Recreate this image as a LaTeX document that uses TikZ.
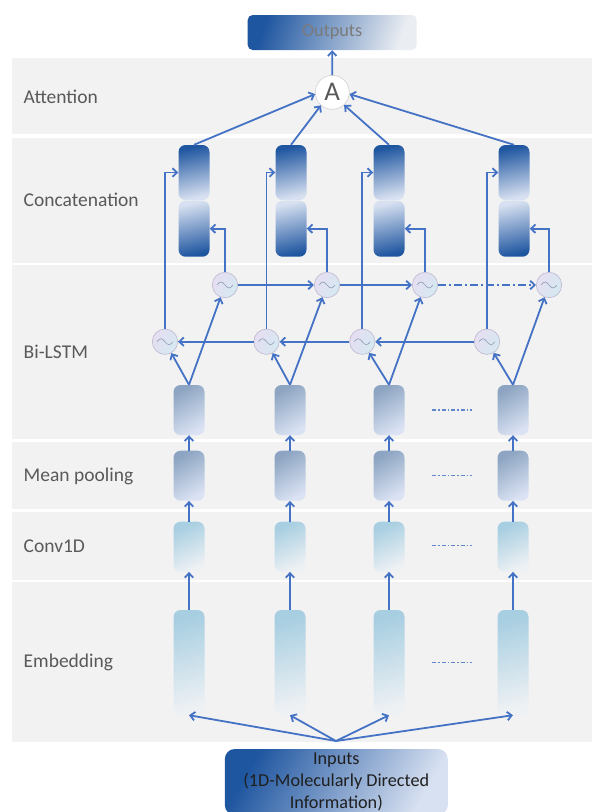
\documentclass[tikz,border=0pt]{standalone}
\usepackage{fontspec}
\setmainfont{Carlito}
\usetikzlibrary{positioning,arrows.meta,calc}
\definecolor{arrblue}{HTML}{4472C4}
\definecolor{bandgray}{HTML}{F2F2F2}
\definecolor{labgray}{HTML}{595959}
\definecolor{deepblue}{HTML}{1F56A0}
\definecolor{paleblue}{HTML}{D8E1F1}
\definecolor{outmid}{HTML}{B3C4DC}
\definecolor{outlight}{HTML}{EAEDF2}
\definecolor{slateblue}{HTML}{8DA5C2}
\definecolor{slatelight}{HTML}{DAE2F3}
\definecolor{skyblue}{HTML}{A7CEE1}
\definecolor{skylight}{HTML}{EEF1F4}
\definecolor{lilac}{HTML}{E6DEF1}
\definecolor{mint}{HTML}{D5E9F1}
\definecolor{rimgray}{HTML}{BDB7CF}
\definecolor{wavegray}{HTML}{8E9DB5}

\begin{document}
\begin{tikzpicture}[x=1pt,y=-1pt,
  lab/.style={anchor=west,inner sep=0pt,text=labgray,font=\fontsize{19.5}{23}\selectfont},
  cell/.style={rounded corners=7pt,minimum width=31pt,inner sep=0pt,draw=none},
  topcat/.style={cell,minimum height=55pt,top color=deepblue,bottom color=paleblue,shading angle=12},
  botcat/.style={cell,minimum height=56pt,top color=paleblue,bottom color=deepblue,shading angle=12},
  hidcell/.style={cell,minimum height=50pt,top color=slateblue,bottom color=slatelight,shading angle=30},
  convcell/.style={cell,minimum height=50pt,top color=skyblue,bottom color=skylight,shading angle=25},
  embcell/.style={cell,minimum height=105pt,top color=skyblue,bottom color=skylight,shading angle=15},
  unit/.style={circle,minimum size=25.4pt,inner sep=0pt,draw=rimgray,line width=0.6pt,
    left color=lilac,right color=mint,shading angle=60},
  wave/.style={draw=wavegray,line width=0.6pt},
  link/.style={draw=arrblue,line width=1.8pt,-{Straight Barb[length=4.5pt,width=8.5pt]}},
  dotline/.style={draw=arrblue!85,line width=1.1pt,dash pattern=on 4pt off 2pt on 1.5pt off 2pt}]
\clip (0,0) rectangle (592,812);
\fill[white] (0,0) rectangle (592,812);
% layer bands
\fill[bandgray] (11.5,57.5) rectangle (592,134);
\fill[bandgray] (11.5,137.5) rectangle (592,262.5);
\fill[bandgray] (11.5,265) rectangle (592,438.5);
\fill[bandgray] (11.5,442) rectangle (592,509);
\fill[bandgray] (11.5,511.5) rectangle (592,579.5);
\fill[bandgray] (11.5,582) rectangle (592,742);
\node[lab] (latt) at (23.5,96.5) {Attention};
\node[lab] (lcat) at (23.5,200) {Concatenation};
\node[lab] (llstm) at (23.5,352) {Bi-LSTM};
\node[lab] (lpool) at (23.5,476) {Mean pooling};
\node[lab] (lconv) at (23.5,546) {Conv1D};
\node[lab] (lemb) at (23.5,662.5) {Embedding};

\node[rounded corners=5pt,minimum width=169pt,minimum height=35pt,inner sep=0pt,
  left color=deepblue,middle color=outmid,right color=outlight,shading angle=70,
  text=black!52,font=\fontsize{18.2}{21}\selectfont] (out) at (332.2,32.5) {Outputs};
\node[circle,minimum size=34pt,inner sep=0pt,fill=white,draw=black!18,line width=0.6pt,
  text=labgray,font=\fontsize{27}{30}\selectfont] (att) at (332.3,92.3) {A};
\node[rounded corners=10pt,minimum width=223pt,minimum height=66pt,inner sep=0pt,align=center,
  top color=deepblue,bottom color=paleblue,shading angle=60,
  text=black!88,font=\fontsize{18.2}{21.7}\selectfont] (inp) at (336.3,782)
  {Inputs\\(1D-Molecularly Directed\\Information)};
\coordinate (fan) at (336,741);

% one column per time step
\foreach \i/\x/\cx/\bx/\fx in {1/189/194/165/225,2/290/291/266.5/327,3/389/389/362.3/425,4/513/514/487/549}{
  \node[embcell] (emb\i) at (\x,662.5) {};
  \node[convcell] (conv\i) at (\x,546.7) {};
  \node[hidcell] (pool\i) at (\x,475.7) {};
  \node[hidcell] (lstm\i) at (\x,410) {};
  \node[unit] (bw\i) at (\bx,341.7) {};
  \node[unit] (fw\i) at (\fx,285) {};
  \node[botcat] (cb\i) at (\cx,228.7) {};
  \node[topcat] (ct\i) at (\cx,172.5) {};
  \draw[wave] ($(bw\i)+(-8,0)$) sin ++(4,-3) cos ++(4,3) sin ++(4,3) cos ++(4,-3);
  \draw[wave] ($(fw\i)+(-8,0)$) sin ++(4,-3) cos ++(4,3) sin ++(4,3) cos ++(4,-3);
}

\foreach \i in {1,...,4}{
  \draw[link] (fan) -- (emb\i.south);
  \draw[link] (emb\i.north) -- (conv\i.south);
  \draw[link] (conv\i.north) -- (pool\i.south);
  \draw[link] (pool\i.north) -- (lstm\i.south);
  \draw[link] (lstm\i.north) -- (bw\i);
  \draw[link] (lstm\i.north) -- (fw\i);
  \draw[link] (bw\i.north) |- (ct\i.west);
  \draw[link] (fw\i.north) |- (cb\i.east);
}
\draw[link] (fw1) -- (fw2);
\draw[link] (fw2) -- (fw3);
\draw[link,dash pattern=on 8pt off 3pt on 2pt off 3pt] (fw3) -- (fw4);
\draw[link] (bw4) -- (bw3);
\draw[link] (bw3) -- (bw2);
\draw[link] (bw2) -- (bw1);
\draw[link] (ct1.north) -- (att.186);
\draw[link] (ct2.north) -- (att.229);
\draw[link] (ct3.north) -- (att.-47);
\draw[link] (ct4.north) -- (att.-6);
\draw[link] (att.north) -- (out.south);

% skipped steps
\foreach \y in {410,475.7,545.7,662.3}
  \draw[dotline] (432,\y) -- (472,\y);
\end{tikzpicture}
\end{document}
